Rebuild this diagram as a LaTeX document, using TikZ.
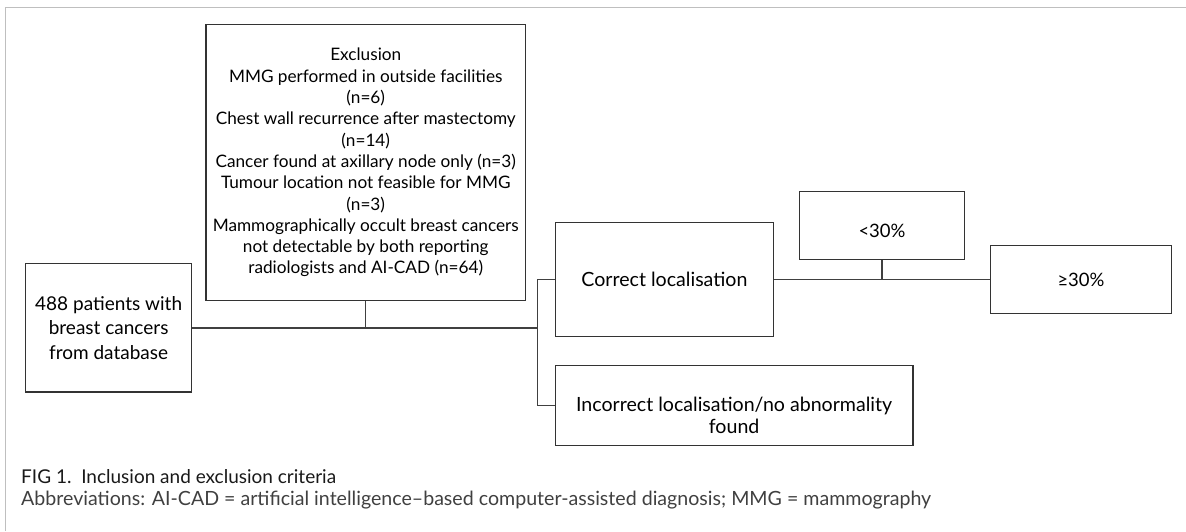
\documentclass[tikz,border=0pt]{standalone}
\usepackage{fontspec}
\setmainfont{Lato}
\begin{document}
\begin{tikzpicture}[x=1pt,y=-1pt,
  box/.style={draw=black!80, line width=1.3pt, rectangle, inner sep=0pt, align=center, font=\fontsize{19.6}{22.7}\selectfont},
  txt/.style={align=center, inner sep=0pt, font=\fontsize{19.6}{22.7}\selectfont},
  conn/.style={draw=black!75, line width=1.4pt},
  frame/.style={draw=black!25, line width=1.3pt}]
\useasboundingbox (0,0) rectangle (1186,531);
% frame
\coordinate (fa) at (5.5,531);
\coordinate (fb) at (5.5,7.3);
\coordinate (fc) at (1186,7.3);
\draw[frame] (fa) -- (fb) -- (fc);
% boxes
\node[box, minimum width=319.5pt, minimum height=276pt,
  font=\fontsize{17.2}{21.3}\selectfont] (exc) at (365.75,162.7)
  {Exclusion\\MMG performed in outside facilities\\(n=6)\\Chest wall recurrence after mastectomy\\(n=14)\\Cancer found at axillary node only (n=3)\\Tumour location not feasible for MMG\\(n=3)\\Mammographically occult breast cancers\\not detectable by both reporting\\radiologists and AI-CAD (n=64)};
\node[box, minimum width=166pt, minimum height=128.4pt,
  font=\fontsize{19}{24.5}\selectfont] (pat) at (108.65,327.8)
  {488 patients with\\breast cancers\\from database};
\node[box, minimum width=218.3pt, minimum height=113.4pt] (cor) at (664.45,279.5) {Correct localisation};
\node[box, minimum width=165pt, minimum height=67.6pt] (lt) at (882,225.5) {};
\node[txt, font=\fontsize{18.5}{22.7}\selectfont] (ltT) at (882,231) {<30\%};
\node[box, minimum width=180.5pt, minimum height=68pt, font=\fontsize{18.5}{22.7}\selectfont] (ge) at (1081,279.5) {≥30\%};
\node[box, minimum width=357.7pt, minimum height=80.4pt] (inc) at (734.15,405.5) {};
\node[txt] (incT) at (734.15,415.4) {Incorrect localisation/no abnormality\\found};
% connectors
\coordinate (br) at (537.7,328.3);
\draw[conn] (pat.east) -- (pat.east -| br);
\draw[conn] (exc.south) -- (exc.south |- pat.east);
\draw[conn] (cor.west) -- (cor.west -| br) -- (inc.west -| br) -- (inc.west);
\draw[conn] (cor.east) -- (ge.west);
\draw[conn] (lt.south) -- (lt.south |- cor.east);
% caption
\node[anchor=west, inner sep=0pt, text=black!90, font=\fontsize{19}{22}\selectfont] (cap) at (21,476.7) {FIG 1.\ \ Inclusion and exclusion criteria};
\node[anchor=west, inner sep=0pt, text=black!75, font=\fontsize{19.6}{22}\selectfont] (abb) at (21,500) {Abbreviations: AI-CAD = artificial intelligence–based computer-assisted diagnosis; MMG = mammography};
\end{tikzpicture}
\end{document}
